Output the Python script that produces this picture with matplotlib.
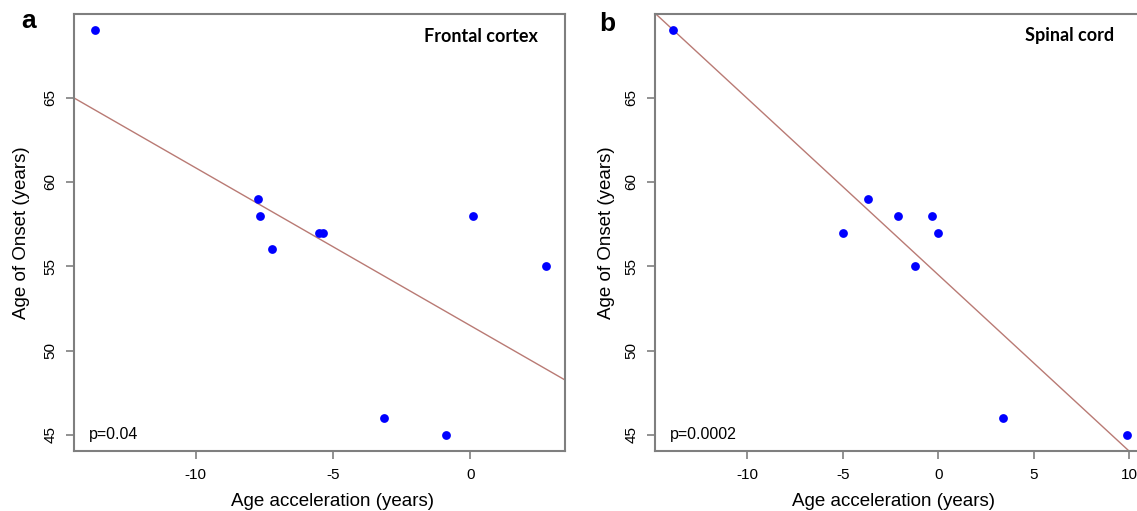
import numpy as np
import matplotlib
matplotlib.use('Agg')
import matplotlib.pyplot as plt

plt.rcParams['font.family'] = ['Liberation Sans', 'DejaVu Sans']

# Frontal cortex: age acceleration vs age of onset
frontal_accel = [-13.66, -7.73, -7.66, -7.21, -5.50, -5.35, -3.16, -0.89, 0.10, 2.75]
frontal_onset = [69, 59, 58, 56, 57, 57, 46, 45, 58, 55]
frontal_p = 'p=0.04'

# Spinal cord
spinal_accel = [-13.88, -5.00, -3.70, -2.13, -0.33, 0.00, -1.20, 3.36, 9.86]
spinal_onset = [69, 57, 59, 58, 58, 57, 55, 46, 45]
spinal_p = 'p=0.0002'

yticks = [45, 50, 55, 60, 65]

fig = plt.figure(figsize=(11.37, 5.11), dpi=100)
ax_a = fig.add_axes([0.0651, 0.1174, 0.4318, 0.8552])
ax_b = fig.add_axes([0.5761, 0.1174, 0.4308, 0.8552])

panels = [
    (ax_a, frontal_accel, frontal_onset, frontal_p, (-14.42, 3.44), [-10, -5, 0], 0.527, -0.09),
    (ax_b, spinal_accel, spinal_onset, spinal_p, (-14.83, 10.81), [-10, -5, 0, 5, 10], 0.487, -0.082),
]

for ax, x, y, ptxt, xlim, xticks, xlab_pos, ylab_pos in panels:
    ax.scatter(x, y, s=40, color='#0000ff', zorder=3, linewidths=0)
    # least-squares fit line across the whole plot region
    slope, icpt = np.polyfit(x, y, 1)
    xs = np.array(xlim)
    ax.plot(xs, icpt + slope * xs, color='#b97a74', lw=1.0, zorder=2)
    ax.set_xlim(*xlim)
    ax.set_ylim(44.04, 69.96)
    ax.set_xticks(xticks)
    ax.set_yticks(yticks)
    ax.set_xticklabels([str(t) for t in xticks], fontsize=11)
    ax.set_yticklabels([str(t) for t in yticks], fontsize=11, rotation=90, va='center')
    ax.tick_params(direction='out', length=6, width=1.2, color='#7f7f7f', pad=6)
    for s in ax.spines.values():
        s.set_color('#7f7f7f')
        s.set_linewidth(1.5)
    ax.set_xlabel('Age acceleration (years)', fontsize=13.5)
    ax.xaxis.set_label_coords(xlab_pos, -0.095)
    ax.set_ylabel('Age of Onset (years)', fontsize=13.5)
    ax.yaxis.set_label_coords(ylab_pos, 0.5)
    ax.text(0.031, 45, ptxt, fontsize=11.5, va='center', ha='left',
            transform=ax.get_yaxis_transform())

# panel titles and letters
fig.text(537.5 / 1137, 1 - 36 / 511, 'Frontal cortex', fontsize=13, fontweight='bold',
         ha='right', va='center', family='Lato')
fig.text(1114.6 / 1137, 1 - 36 / 511, 'Spinal cord', fontsize=13, fontweight='bold',
         ha='right', va='center', family='Lato')
fig.text(29 / 1137, 1 - 21 / 511, 'a', fontsize=19, fontweight='bold', ha='center', va='center')
fig.text(607 / 1137, 1 - 24 / 511, 'b', fontsize=19, fontweight='bold', ha='center', va='center')

fig.savefig('out.png', dpi=100)
